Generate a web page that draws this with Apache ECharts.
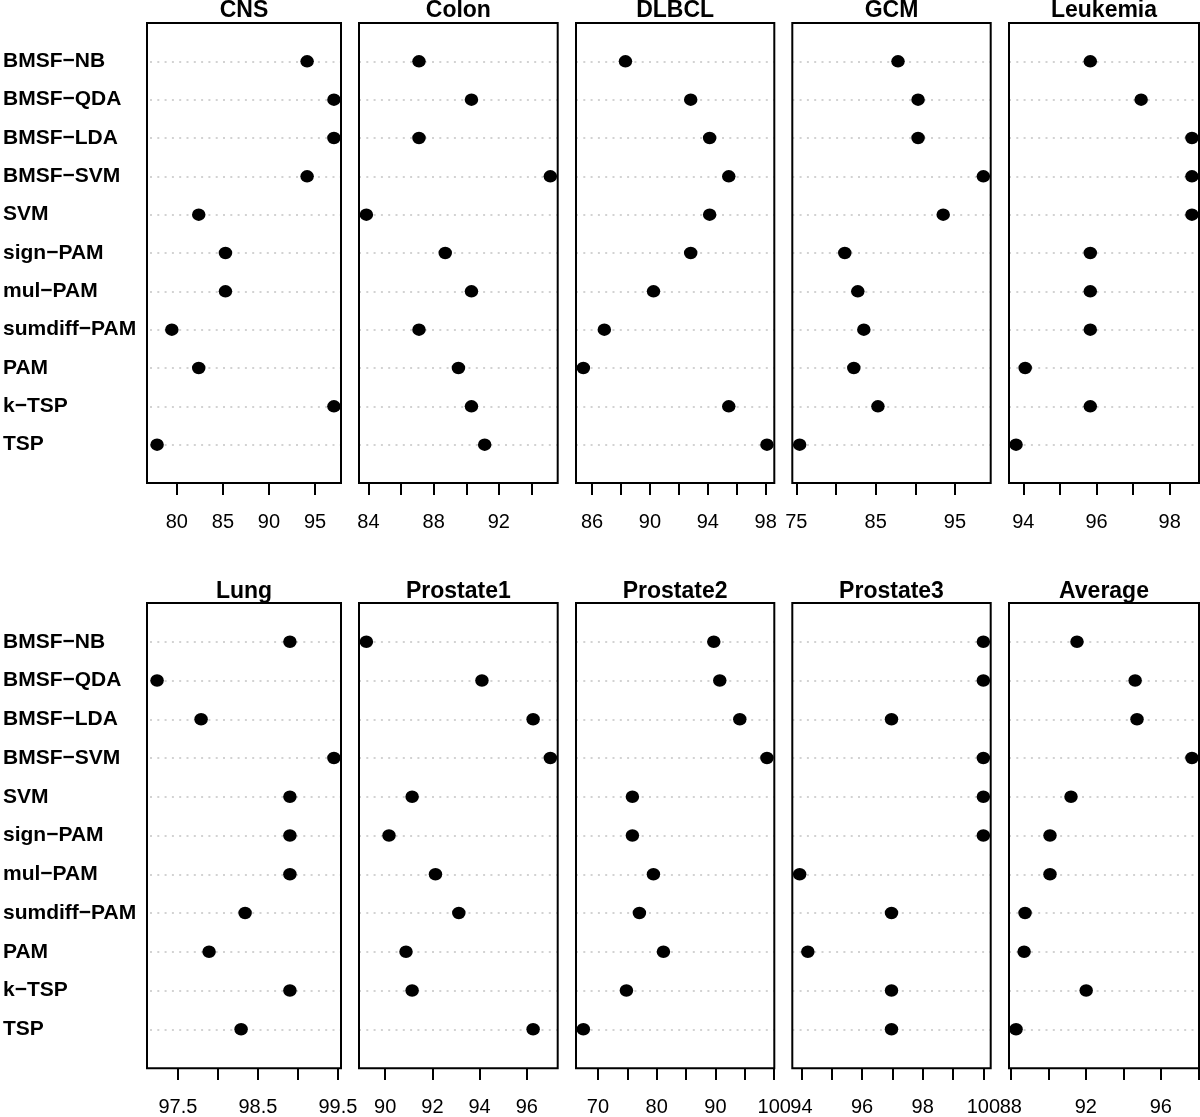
<!DOCTYPE html>
<html>
<head>
<meta charset="utf-8">
<script src="https://cdn.jsdelivr.net/npm/echarts@6/dist/echarts.min.js"></script>
<style>
html,body{margin:0;padding:0;background:#fff;}
#chart{width:1200px;height:1117px;}
</style>
</head>
<body>
<div id="chart"></div>
<script>
// ---------- data ----------
const methods = ['BMSF−NB','BMSF−QDA','BMSF−LDA','BMSF−SVM','SVM','sign−PAM','mul−PAM','sumdiff−PAM','PAM','k−TSP','TSP'];

const cns       = [94.14, 97.05, 97.05, 94.14, 82.38, 85.28, 85.28, 79.46, 82.38, 97.05, 77.86];
const colon     = [87.10, 90.32, 87.10, 95.16, 83.87, 88.71, 90.32, 87.10, 89.52, 90.32, 91.13];
const dlbcl     = [88.31, 92.82, 94.13, 95.45, 94.13, 92.82, 90.25, 86.85, 85.40, 95.45, 98.09];
const gcm       = [87.82, 90.35, 90.35, 98.58, 93.52, 81.11, 82.75, 83.51, 82.25, 85.29, 75.42];
const leukemia  = [95.83, 97.22, 98.61, 98.61, 98.61, 95.83, 95.83, 95.83, 94.05, 95.83, 93.80];
const lung      = [98.90, 97.24, 97.79, 99.45, 98.90, 98.90, 98.90, 98.34, 97.89, 98.90, 98.29];
const prostate1 = [89.20, 94.10, 96.27, 97.00, 91.14, 90.16, 92.13, 93.12, 90.88, 91.14, 96.27];
const prostate2 = [89.71, 90.73, 94.14, 98.76, 75.86, 75.86, 79.44, 77.05, 81.14, 74.84, 67.51];
const prostate3 = [100.0, 100.0, 96.97, 100.0, 100.0, 100.0, 93.94, 96.97, 94.21, 96.97, 96.97];
const average   = [91.53, 94.63, 94.73, 97.66, 91.21, 90.09, 90.09, 88.76, 88.71, 92.02, 88.28];

const panelNames = ['CNS','Colon','DLBCL','GCM','Leukemia','Lung','Prostate1','Prostate2','Prostate3','Average'];
const panelValues = [cns, colon, dlbcl, gcm, leukemia, lung, prostate1, prostate2, prostate3, average];

const tickValues = [
  [80,85,90,95],
  [84,86,88,90,92,94],
  [86,88,90,92,94,96,98],
  [75,80,85,90,95],
  [94,95,96,97,98],
  [97.5,98,98.5,99,99.5],
  [90,92,94,96],
  [70,75,80,85,90,95,100],
  [94,95,96,97,98,99,100],
  [88,90,92,94,96,98]
];
const tickLabels = [
  [80,85,90,95],
  [84,88,92],
  [86,90,94,98],
  [75,85,95],
  [94,96,98],
  [97.5,98.5,99.5],
  [90,92,94,96],
  [70,80,90,100],
  [94,96,98,100],
  [88,92,96]
];

// ---------- layout ----------
const FONT = "'Liberation Sans', Arial, Helvetica, sans-serif";
const colLeft  = [147, 359, 576, 792.3, 1009];
const colWidth = [194, 198.7, 198.3, 198.4, 190];
const rowTop    = [23, 603];
const rowHeight = [460, 465.3];
const titleY    = [11, 591.5];

const grids = [], xAxes = [], yAxes = [], series = [], graphics = [];
panelValues.forEach((vals, i) => {
  const row = Math.floor(i / 5), col = i % 5;
  const lo = Math.min(...vals), hi = Math.max(...vals);
  const r = hi - lo;
  const axMin = lo - 0.04 * r, axMax = hi + 0.04 * r;   // R's default 4% axis extension
  grids.push({
    left: colLeft[col], top: rowTop[row], width: colWidth[col], height: rowHeight[row],
    show: false
  });
  xAxes.push({
    type: 'value', gridIndex: i, min: axMin, max: axMax, position: 'bottom',
    axisLine: { show: false, onZero: false },
    axisTick: { show: true, length: 12, customValues: tickValues[i], lineStyle: { color: '#000', width: 2 } },
    axisLabel: { show: true, customValues: tickLabels[i], margin: 29, fontSize: 20, color: '#000', fontFamily: FONT,
                 formatter: v => String(v) },
    splitLine: { show: false }
  });
  yAxes.push({
    type: 'value', gridIndex: i, min: 0, max: 12, interval: 1, inverse: true,
    axisLine: { show: false, onZero: false }, axisTick: { show: false },
    axisLabel: {
      show: col === 0, margin: 147, align: 'left', fontSize: 21, fontWeight: 'bold', color: '#000', fontFamily: FONT,
      formatter: v => (v >= 1 && v <= methods.length) ? methods[v - 1] : ''
    },
    splitLine: { show: true, showMinLine: false, showMaxLine: false,
                 lineStyle: { type: [2, 5.3], color: '#c4c4c4', width: 1.5 } }
  });
  series.push({
    type: 'scatter', xAxisIndex: i, yAxisIndex: i,
    data: vals.map((v, k) => [v, k + 1]),
    symbol: 'circle', symbolSize: [13.5, 12.5],
    itemStyle: { color: '#000', opacity: 1 }, silent: true, z: 5
  });
  graphics.push({
    type: 'rect', z: 10, silent: true,
    shape: { x: colLeft[col], y: rowTop[row], width: colWidth[col], height: rowHeight[row] },
    style: { fill: null, stroke: '#000', lineWidth: 2 }
  });
  graphics.push({
    type: 'text',
    style: { text: panelNames[i], x: colLeft[col] + colWidth[col] / 2, y: titleY[row],
             align: 'center', verticalAlign: 'middle', fill: '#000',
             font: 'bold 23px ' + FONT }
  });
});

const chart = echarts.init(document.getElementById('chart'), null, { renderer: 'canvas' });
chart.setOption({
  animation: false,
  backgroundColor: '#fff',
  grid: grids, xAxis: xAxes, yAxis: yAxes, series: series,
  graphic: graphics
});
</script>
</body>
</html>
